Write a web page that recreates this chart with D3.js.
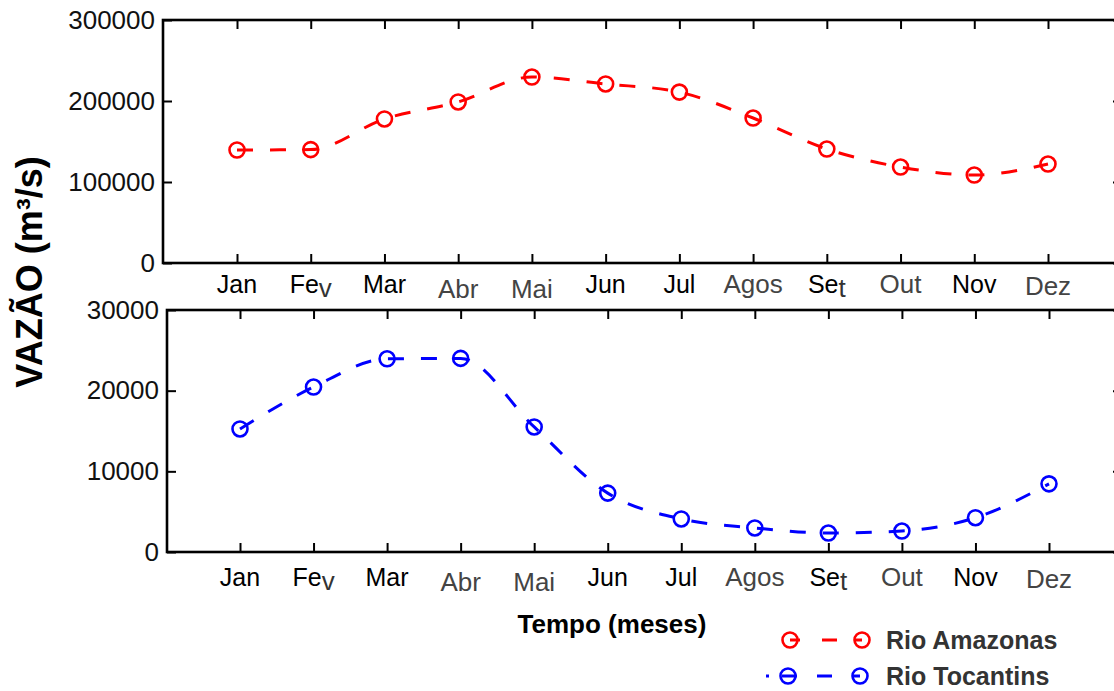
<!DOCTYPE html>
<html>
<head>
<meta charset="utf-8">
<script src="https://cdn.jsdelivr.net/npm/d3@7"></script>
<style>
  body { margin: 0; background: #fff; }
  svg { display: block; font-family: "Liberation Sans", Arial, sans-serif; }
</style>
</head>
<body>
<div id="chart"></div>
<script>
// data
const months = ["Jan", "Fev", "Mar", "Abr", "Mai", "Jun", "Jul", "Agos", "Set", "Out", "Nov", "Dez"];
const amazonas = [139500, 140000, 177800, 198800, 229600, 221000, 211000, 179000, 140700, 118500, 108600, 122200];
const tocantins = [15250, 20450, 23950, 24000, 15500, 7300, 4100, 2980, 2350, 2600, 4250, 8450];
const amazonasTicks = [0, 100000, 200000, 300000];
const tocantinsTicks = [0, 10000, 20000, 30000];
const seriesNames = ["Rio Amazonas", "Rio Tocantins"];

const W = 1114, H = 691;

const svg = d3.select("#chart")
    .append("svg")
    .attr("width", W)
    .attr("height", H);

// the month labels are a bit uneven in the original
const grayLabels = new Set(["Abr", "Mai", "Agos", "Out", "Dez"]);
const labelDrop = {Abr: 5, Mai: 5, Dez: 2};
const splitLabels = new Set(["Fev", "Set"]);

const panels = [
    {values: amazonas, ticks: amazonasTicks, color: "#ff0000",
     left: 163, right: 1122, top: 20, bottom: 263, xFirst: 237, xLast: 1048, labelOffset: 30},
    {values: tocantins, ticks: tocantinsTicks, color: "#0000ff",
     left: 167, right: 1122, top: 310, bottom: 552, xFirst: 240, xLast: 1049, labelOffset: 34}
];

panels.forEach(function(p) {
    const x = d3.scalePoint()
        .domain(months)
        .range([p.xFirst, p.xLast]);

    const y = d3.scaleLinear()
        .domain([p.ticks[0], p.ticks[p.ticks.length - 1]])
        .range([p.bottom, p.top]);

    const g = svg.append("g");

    // y axis, ticks pointing inward
    const yAxis = g.append("g")
        .attr("transform", "translate(" + p.left + ",0)")
        .call(d3.axisLeft(y).tickValues(p.ticks).tickFormat(d3.format("d"))
            .tickSizeInner(-9).tickSizeOuter(0).tickPadding(8));
    yAxis.select(".domain").remove();
    yAxis.selectAll("line").attr("stroke", "#000").attr("stroke-width", 2);
    yAxis.selectAll("text")
        .attr("font-size", 26)
        .attr("fill", "#111")
        .attr("font-family", "Liberation Sans, Arial, sans-serif");

    const yRight = g.append("g")
        .attr("transform", "translate(" + p.right + ",0)")
        .call(d3.axisRight(y).tickValues(p.ticks).tickSizeInner(-9).tickSizeOuter(0).tickFormat(""));
    yRight.select(".domain").remove();
    yRight.selectAll("line").attr("stroke", "#000").attr("stroke-width", 2);

    const xBottom = g.append("g")
        .attr("transform", "translate(0," + p.bottom + ")")
        .call(d3.axisBottom(x).tickSizeInner(-9).tickSizeOuter(0).tickFormat(""));
    xBottom.select(".domain").remove();
    xBottom.selectAll("line").attr("stroke", "#000").attr("stroke-width", 2);

    const xTop = g.append("g")
        .attr("transform", "translate(0," + p.top + ")")
        .call(d3.axisTop(x).tickSizeInner(-9).tickSizeOuter(0).tickFormat(""));
    xTop.select(".domain").remove();
    xTop.selectAll("line").attr("stroke", "#000").attr("stroke-width", 2);

    // frame
    g.append("rect")
        .attr("x", p.left)
        .attr("y", p.top)
        .attr("width", p.right - p.left)
        .attr("height", p.bottom - p.top)
        .attr("fill", "none")
        .attr("stroke", "#000")
        .attr("stroke-width", 2.6);

    // month labels
    const labels = g.selectAll(".month")
        .data(months)
        .enter()
        .append("text")
        .attr("class", "month")
        .attr("x", d => x(d))
        .attr("y", d => p.bottom + p.labelOffset + (labelDrop[d] || 0))
        .attr("text-anchor", "middle")
        .attr("font-size", d => grayLabels.has(d) ? 26 : 25)
        .attr("fill", d => grayLabels.has(d) ? "#444" : "#000");

    labels.each(function(d) {
        const t = d3.select(this);
        if (splitLabels.has(d)) {
            t.append("tspan").text(d.slice(0, -1));
            t.append("tspan")
                .attr("dy", 4)
                .attr("font-size", 26)
                .attr("fill", "#333")
                .text(d.slice(-1));
        } else {
            t.text(d);
        }
    });

    // series
    const line = d3.line()
        .x((d, i) => x(months[i]))
        .y(d => y(d))
        .curve(d3.curveMonotoneX);

    g.append("path")
        .datum(p.values)
        .attr("d", line)
        .attr("fill", "none")
        .attr("stroke", p.color)
        .attr("stroke-width", 3)
        .attr("stroke-dasharray", "16,17");

    g.selectAll(".pt")
        .data(p.values)
        .enter()
        .append("circle")
        .attr("class", "pt")
        .attr("cx", (d, i) => x(months[i]))
        .attr("cy", d => y(d))
        .attr("r", 7.5)
        .attr("fill", "none")
        .attr("stroke", p.color)
        .attr("stroke-width", 2.6);
});

// axis titles
svg.append("text")
    .attr("transform", "translate(42,272) rotate(-90)")
    .attr("text-anchor", "middle")
    .attr("font-size", 36)
    .attr("font-weight", "bold")
    .attr("fill", "#000")
    .text("VAZÃO (m³/s)");

svg.append("text")
    .attr("x", 612)
    .attr("y", 633)
    .attr("text-anchor", "middle")
    .attr("font-size", 26)
    .attr("font-weight", "bold")
    .attr("fill", "#000")
    .text("Tempo (meses)");

// legend
const legendItems = [
    {name: seriesNames[0], color: "#ff0000", y: 640, x1: 790, x2: 862, dash: "10,22,15,18,20"},
    {name: seriesNames[1], color: "#0000ff", y: 676, x1: 766, x2: 860, dash: "3,13,15,20,15,20,15"}
];

const legend = svg.append("g");
legendItems.forEach(function(d) {
    legend.append("line")
        .attr("x1", d.x1)
        .attr("x2", d.x2)
        .attr("y1", d.y)
        .attr("y2", d.y)
        .attr("stroke", d.color)
        .attr("stroke-width", 3)
        .attr("stroke-dasharray", d.dash);
    [d.x1 === 766 ? 788 : d.x1, d.x2].forEach(function(cx) {
        legend.append("circle")
            .attr("cx", cx)
            .attr("cy", d.y)
            .attr("r", 7.5)
            .attr("fill", "none")
            .attr("stroke", d.color)
            .attr("stroke-width", 2.6);
    });
    legend.append("text")
        .attr("x", 886)
        .attr("y", d.y + 9)
        .attr("font-size", 25)
        .attr("font-weight", "bold")
        .attr("fill", "#333")
        .text(d.name);
});
</script>
</body>
</html>
